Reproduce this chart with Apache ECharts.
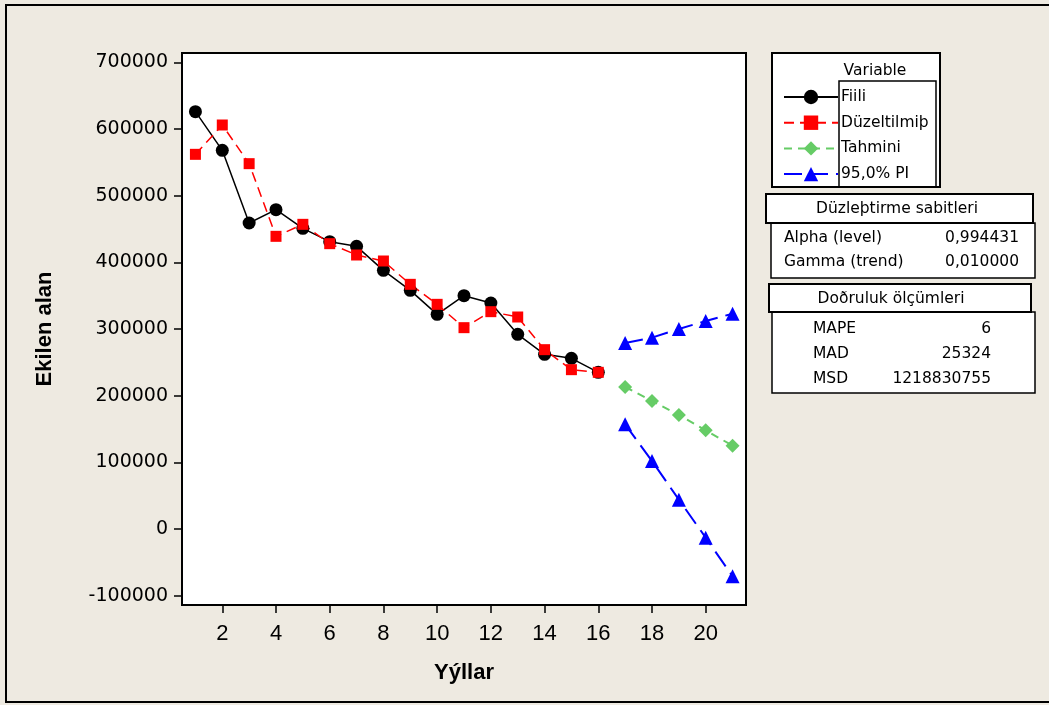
<!DOCTYPE html>
<html>
<head>
<meta charset="utf-8">
<script src="https://cdn.jsdelivr.net/npm/echarts@6/dist/echarts.min.js"></script>
<style>
html,body{margin:0;padding:0;background:#EEEAE1;}
#chart{width:1049px;height:705px;}
</style>
</head>
<body>
<div id="chart"></div>
<script>
// ---- data ----
const years = [1,2,3,4,5,6,7,8,9,10,11,12,13,14,15,16];
const fiili = [626000,568000,459000,479000,451000,431000,424000,388000,358000,322000,350000,339000,292000,262000,256000,235000];
const duzeltilmis = [562000,606000,548000,439000,457000,428000,411000,402000,367000,337000,302000,326000,318000,269000,239000,235000];
const forecastYears = [17,18,19,20,21];
const tahmini = [213000,192000,171000,148000,125000];
const piUpper = [279000,287000,300000,312000,323000];
const piLower = [157000,102000,44000,-13000,-71000];
const xTicks = [2,4,6,8,10,12,14,16,18,20];
const yTicks = [-100000,0,100000,200000,300000,400000,500000,600000,700000];
const seriesNames = ['Fiili','Düzeltilmiþ','Tahmini','95,0% PI'];
const table1Title = 'Düzleþtirme sabitleri';
const table1 = [['Alpha (level)','0,994431'],['Gamma (trend)','0,010000']];
const table2Title = 'Doðruluk ölçümleri';
const table2 = [['MAPE','6'],['MAD','25324'],['MSD','1218830755']];

const pairs = (xs, ys) => xs.map((x,i)=>[x, ys[i]]);
const tf = '"DejaVu Sans", Verdana, sans-serif';

const graphics = [
  {type:'rect', shape:{x:6,y:5,width:1050,height:697}, style:{fill:'none',stroke:'#000',lineWidth:2}, z:0},
  // legend boxes
  {type:'rect', shape:{x:772,y:53,width:168,height:134}, style:{fill:'#fff',stroke:'#000',lineWidth:2}, z:0},
  {type:'rect', shape:{x:839,y:81,width:97,height:106}, style:{fill:'none',stroke:'#000',lineWidth:1.5}, z:1},
  {type:'text', x:875, y:71, style:{text:'Variable', font:'15.5px '+tf, fill:'#000', align:'center', verticalAlign:'middle'}, z:2},
  // table 1
  {type:'rect', shape:{x:771,y:223,width:264,height:55}, style:{fill:'#fff',stroke:'#000',lineWidth:1.5}, z:0},
  {type:'rect', shape:{x:766,y:194,width:267,height:29}, style:{fill:'#fff',stroke:'#000',lineWidth:2}, z:1},
  {type:'text', x:897, y:209, style:{text:table1Title, font:'15.5px '+tf, fill:'#000', align:'center', verticalAlign:'middle'}, z:2},
  // table 2
  {type:'rect', shape:{x:772,y:312,width:263,height:81}, style:{fill:'#fff',stroke:'#000',lineWidth:1.5}, z:0},
  {type:'rect', shape:{x:769,y:284,width:262,height:28}, style:{fill:'#fff',stroke:'#000',lineWidth:2}, z:1},
  {type:'text', x:891, y:299, style:{text:table2Title, font:'15.5px '+tf, fill:'#000', align:'center', verticalAlign:'middle'}, z:2}
];
table1.forEach((r,i)=>{
  graphics.push({type:'text', x:784, y:238+i*24, style:{text:r[0], font:'15.5px '+tf, fill:'#000', align:'left', verticalAlign:'middle'}, z:2});
  graphics.push({type:'text', x:1019, y:238+i*24, style:{text:r[1], font:'15.5px '+tf, fill:'#000', align:'right', verticalAlign:'middle'}, z:2});
});
table2.forEach((r,i)=>{
  graphics.push({type:'text', x:813, y:329+i*25, style:{text:r[0], font:'15.5px '+tf, fill:'#000', align:'left', verticalAlign:'middle'}, z:2});
  graphics.push({type:'text', x:991, y:329+i*25, style:{text:r[1], font:'15.5px '+tf, fill:'#000', align:'right', verticalAlign:'middle'}, z:2});
});

const chart = echarts.init(document.getElementById('chart'), null, {renderer:'canvas'});
chart.setOption({
  backgroundColor:'#EEEAE1',
  animation:false,
  graphic: graphics,
  grid:{left:182, top:53, width:564, height:552, show:true, backgroundColor:'#fff', borderColor:'#000', borderWidth:2},
  legend:{
    data: seriesNames,
    orient:'vertical', left:778, top:83,
    itemWidth:54, itemHeight:18, itemGap:7.7,
    selectedMode:false,
    textStyle:{fontFamily:tf, fontSize:15.5, color:'#000', lineHeight:18, padding:[0,0,0,-2]}
  },
  xAxis:{
    type:'value', min:0.5, max:21.5,
    name:'Yýllar', nameLocation:'middle', nameGap:57,
    nameTextStyle:{fontFamily:'"Liberation Sans", Arial, sans-serif', fontWeight:'bold', fontSize:22, color:'#000'},
    axisLine:{show:false, onZero:false},
    axisTick:{show:true, length:8, customValues:xTicks, lineStyle:{color:'#000', width:1.5}},
    axisLabel:{customValues:xTicks, margin:18, fontFamily:'"Liberation Sans", Arial, sans-serif', fontSize:22, color:'#000'},
    splitLine:{show:false}
  },
  yAxis:{
    type:'value', min:-114000, max:714000,
    name:'Ekilen alan', nameLocation:'middle', nameGap:126, nameRotate:90,
    nameTextStyle:{fontFamily:'"Liberation Sans", Arial, sans-serif', fontWeight:'bold', fontSize:22, color:'#000'},
    axisLine:{show:false, onZero:false},
    axisTick:{show:true, length:8, customValues:yTicks, lineStyle:{color:'#000', width:1.5}},
    axisLabel:{customValues:yTicks, margin:14, fontFamily:tf, fontSize:19, color:'#000',
      formatter:(v)=>String(v)},
    splitLine:{show:false}
  },
  series:[
    {name:'Fiili', type:'line', data:pairs(years,fiili), symbol:'circle', symbolSize:13,
     itemStyle:{color:'#000'}, lineStyle:{color:'#000', width:1.5}},
    {name:'Düzeltilmiþ', type:'line', data:pairs(years,duzeltilmis), symbol:'rect', symbolSize:11,
     itemStyle:{color:'#FF0000'}, lineStyle:{color:'#FF0000', width:1.5, type:[10,6]}},
    {name:'Tahmini', type:'line', data:pairs(forecastYears,tahmini), symbol:'diamond', symbolSize:14,
     itemStyle:{color:'#66CC66'}, lineStyle:{color:'#66CC66', width:2, type:[8,6]}},
    {name:'95,0% PI', type:'line', data:pairs(forecastYears,piUpper), symbol:'triangle', symbolSize:14,
     itemStyle:{color:'#0000FF'}, lineStyle:{color:'#0000FF', width:2, type:[18,8]}},
    {name:'95,0% PI', type:'line', data:pairs(forecastYears,piLower), symbol:'triangle', symbolSize:14,
     itemStyle:{color:'#0000FF'}, lineStyle:{color:'#0000FF', width:2, type:[18,8]}}
  ]
});
</script>
</body>
</html>
